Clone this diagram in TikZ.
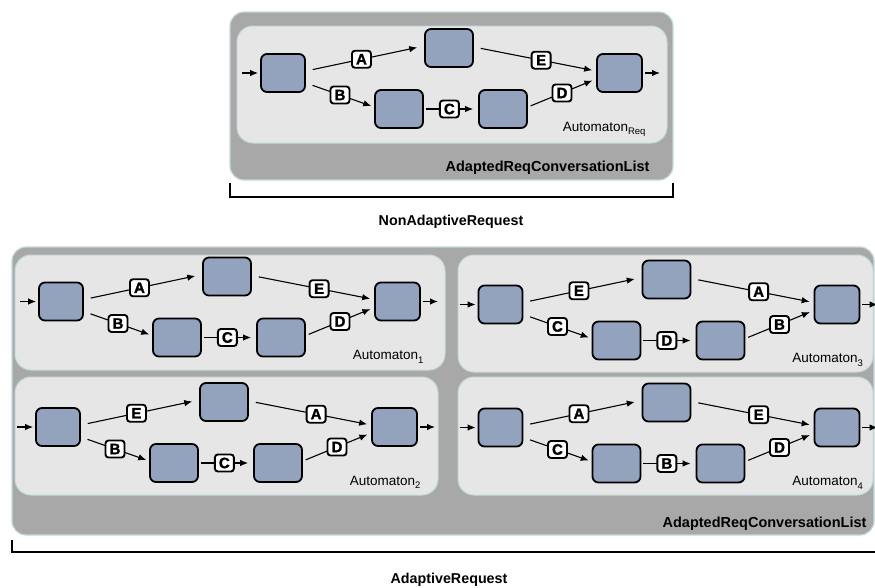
\documentclass[tikz,border=0pt]{standalone}
\usepackage{fontspec}
\setmainfont{Liberation Sans}
\newfontfamily\heavyfont{Liberation Sans Bold}[FakeBold=1.5]
\usetikzlibrary{arrows.meta,calc}

\definecolor{outergray}{HTML}{A8A8A8}
\definecolor{innerlight}{HTML}{E6E6E6}
\definecolor{tealedge}{HTML}{C3DADA}
\definecolor{statefill}{HTML}{93A2BD}

\tikzset{
  outerbox/.style={fill=outergray, draw=tealedge, line width=1.2pt, rounded corners=14pt},
  innerbox/.style={fill=innerlight, draw=tealedge, line width=1pt, rounded corners=16pt},
  state/.style={fill=statefill, draw=black, line width=1.8pt, rounded corners=6pt,
    minimum width=44pt, minimum height=38pt, inner sep=0pt},
  edge/.style={-{Latex[length=8pt,width=6.5pt]}, line width=1.1pt},
  lbl/.style={fill=white, draw=black, line width=1.9pt, rounded corners=3pt,
    font=\heavyfont\fontsize{15}{15}\selectfont, inner sep=0pt,
    minimum width=19pt, minimum height=17pt},
  autotext/.style={anchor=base east, font=\fontsize{13.5}{14}\selectfont},
  listtext/.style={anchor=base east, font=\bfseries\fontsize{14.5}{15}\selectfont},
  reqtext/.style={anchor=base, font=\bfseries\fontsize{14.3}{15}\selectfont},
  bracket/.style={line width=1.8pt},
}

% #1 prefix, #2 ox, #3 oy, #4..#8 labels (A-edge,E-edge,B-edge,C-edge,D-edge), #9 subscript
\newcommand{\automatonfig}[9]{%
  \begin{scope}[shift={(#2,#3)}]
    \node[state] (#1a) at (46,47) {};
    \node[state, minimum width=48pt] (#1b) at (212,22) {};
    \node[state, minimum width=48pt] (#1c) at (162,83) {};
    \node[state, minimum width=48pt] (#1d) at (266,83) {};
    \node[state, minimum width=45pt] (#1e) at (382.5,47) {};
    \coordinate (#1in) at (5,47);
    \coordinate (#1out) at (423,47);
    \draw[edge, shorten >=2pt] (#1in) -- (#1a);
    \draw[edge, shorten <=2pt] (#1e) -- (#1out);
    \draw[edge, shorten <=7pt, shorten >=7pt] ([yshift=2pt]#1a.east) -- node[lbl, pos=.47] {#4} ([yshift=2pt]#1b.west);
    \draw[edge, shorten <=7pt, shorten >=4pt] ([yshift=1pt]#1b.east) -- node[lbl, pos=.55] {#5} ([yshift=2pt]#1e.west);
    \draw[edge, shorten <=7pt, shorten >=3pt] ([yshift=-10pt]#1a.east) -- node[lbl, pos=.5] {#6} ([yshift=2pt]#1c.west);
    \draw[edge, shorten <=2pt, shorten >=5pt] (#1c.east) -- node[lbl, pos=.47] {#7} (#1d.west);
    \draw[edge, shorten <=3pt, shorten >=4pt] ([yshift=2pt]#1d.east) -- node[lbl, pos=.5] {#8} ([yshift=-6pt]#1e.west);
    \node[autotext] (#1name) at (412,105) {Automaton\raisebox{-3.5pt}{\fontsize{9.5}{9.5}\selectfont #9}};
  \end{scope}%
}

\begin{document}
\begin{tikzpicture}[x=1pt, y=-1pt]
  \useasboundingbox (0,0) rectangle (875,587);
  \fill[white] (0,0) rectangle (875,587);

  % ---------- NonAdaptiveRequest ----------
  \draw[outerbox] (230,12) rectangle (673,180);
  \draw[innerbox] (237,26) rectangle (667,143);
  \automatonfig{t}{237}{26}{A}{E}{B}{C}{D}{Req}
  \node[listtext] (tlist) at (653,171) {AdaptedReqConversationList};
  \draw[bracket] (230,183) -- (230,197) -- (673,197) -- (673,183);
  \node[reqtext] (nonadapt) at (451,225) {NonAdaptiveRequest};

  % ---------- AdaptiveRequest ----------
  \draw[outerbox] (12,247) rectangle (874,535);
  \draw[innerbox] (15,255) rectangle (445,370);
  \draw[innerbox] (15,377) rectangle (438,495);
  \draw[innerbox] (458,255) rectangle (873,372);
  \draw[innerbox] (458,377) rectangle (873,495);
  \automatonfig{p}{15}{254.5}{A}{E}{B}{C}{D}{1}
  \automatonfig{q}{12}{380}{E}{A}{B}{C}{D}{2}
  \automatonfig{r}{454.5}{257.5}{E}{A}{C}{D}{B}{3}
  \automatonfig{s}{454.5}{380.5}{A}{E}{C}{B}{D}{4}
  \node[listtext] (blist) at (870,527) {AdaptedReqConversationList};
  \draw[bracket] (12,540) -- (12,552) -- (880,552);
  \node[reqtext] (adapt) at (449,583) {AdaptiveRequest};
\end{tikzpicture}
\end{document}
